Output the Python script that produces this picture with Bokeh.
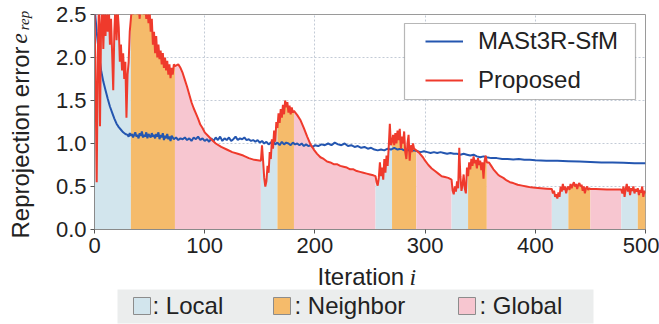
import math
import numpy as np
from bokeh.plotting import figure
from bokeh.layouts import row, column
from bokeh.models import (Range1d, FixedTicker, BoxAnnotation, Legend, LegendItem,
                          PrintfTickFormatter)
from bokeh.core.properties import value
from bokeh.embed import file_html
from bokeh.resources import INLINE

# ---------------- data ----------------
x_ticks = [0, 100, 200, 300, 400, 500]
y_ticks = [0.0, 0.5, 1.0, 1.5, 2.0, 2.5]

phase_starts = [0, 33, 73, 151, 166, 181, 255, 270, 292, 324, 339, 356, 415, 430, 450, 478, 493]
phase_ends = [33, 73, 151, 166, 181, 255, 270, 292, 324, 339, 356, 415, 430, 450, 478, 493, 500]
phase_kinds = ["Local", "Neighbor", "Global", "Local", "Neighbor", "Global", "Local", "Neighbor",
               "Global", "Local", "Neighbor", "Global", "Local", "Neighbor", "Global", "Local", "Neighbor"]
phase_names = ["Local", "Neighbor", "Global"]
phase_colors = {"Local": "#d2e5ed", "Neighbor": "#f5bb6b", "Global": "#f7c6d0"}

# Proposed (red) reprojection error
red_iter = (list(range(0, 74))
            + [76, 78, 80, 82, 84, 86, 88, 90, 92, 94, 96, 98, 100, 103, 106, 110, 115, 120, 125,
               130, 135, 140, 145, 151]
            + list(range(152, 182))
            + [184, 187, 190, 193, 196, 199, 202, 205, 208, 211, 214, 217, 220, 223, 226, 229, 232,
               235, 238, 241, 244, 247, 250, 253, 255]
            + list(range(256, 293))
            + [294, 296, 298, 300, 303, 306, 309, 312, 315, 318, 321, 324]
            + list(range(325, 357))
            + [358, 360, 362, 364, 366, 368, 371, 374, 377, 380, 384, 388, 392, 396, 400, 405, 410, 415]
            + list(range(416, 451))
            + [455, 460, 465, 470, 475, 478]
            + list(range(479, 501)))
red_err = (
    # local 0-33
    [2.6, 1.7, 0.55, 2.0, 2.6, 1.2, 2.4, 2.6, 2.1, 2.55, 2.25, 2.7, 2.3, 2.6, 2.15, 2.45, 2.05,
     1.62, 2.3, 2.6, 2.2, 2.55, 2.35, 1.95, 2.15, 1.85, 2.05, 1.75, 1.95, 1.3, 1.8, 1.95, 2.3, 2.45]
    # neighbor 34-73
    + [2.6, 2.5, 2.65, 2.55, 2.7, 2.5, 2.6, 2.45, 2.65, 2.55, 2.7, 2.5, 2.6, 2.45, 2.6, 2.4, 2.55,
       2.3, 2.45, 2.15, 2.3, 2.05, 2.25, 2.0, 2.15, 1.98, 2.08, 1.92, 2.05, 1.88, 2.0, 1.85, 1.96,
       1.8, 1.92, 1.76, 1.88, 1.8, 1.92, 1.9]
    # global 76-151
    + [1.92, 1.88, 1.82, 1.74, 1.66, 1.57, 1.48, 1.41, 1.35, 1.29, 1.22, 1.18, 1.13, 1.09, 1.05,
       1.0, 0.96, 0.93, 0.9, 0.88, 0.86, 0.83, 0.81, 0.80]
    # local 152-166
    + [0.98, 0.8, 0.6, 0.5, 0.56, 0.74, 0.66, 0.9, 0.82, 1.05, 0.94, 1.15, 1.02, 1.25, 1.18]
    # neighbor 167-181
    + [1.35, 1.24, 1.4, 1.3, 1.45, 1.34, 1.5, 1.42, 1.48, 1.36, 1.44, 1.34, 1.42, 1.36, 1.38]
    # global 184-255
    + [1.33, 1.27, 1.18, 1.08, 0.99, 0.93, 0.88, 0.84, 0.82, 0.79, 0.78, 0.76, 0.76, 0.74, 0.73,
       0.72, 0.7, 0.7, 0.68, 0.67, 0.66, 0.65, 0.64, 0.63, 0.62]
    # local 256-270
    + [0.55, 0.51, 0.6, 0.78, 0.62, 0.72, 0.58, 0.82, 0.66, 0.86, 0.74, 0.96, 1.23, 0.98, 1.02]
    # neighbor 271-292
    + [1.1, 0.98, 1.12, 1.0, 1.15, 1.04, 1.17, 0.94, 1.08, 1.0, 1.14, 0.9, 0.82, 1.0, 1.1, 0.8,
       0.98, 0.9, 1.0, 0.94, 0.93, 0.92]
    # global 294-324
    + [0.9, 0.87, 0.84, 0.8, 0.75, 0.71, 0.68, 0.65, 0.62, 0.61, 0.6, 0.58]
    # local 325-339
    + [0.45, 0.41, 0.5, 0.44, 0.56, 0.48, 0.95, 0.62, 0.45, 0.52, 0.64, 0.48, 0.42, 0.72, 0.62]
    # neighbor 340-356
    + [0.78, 0.7, 0.82, 0.74, 0.85, 0.77, 0.81, 0.71, 0.83, 0.75, 0.8, 0.69, 0.78, 0.59, 0.8,
       0.86, 0.78]
    # global 358-415
    + [0.78, 0.74, 0.7, 0.67, 0.64, 0.62, 0.6, 0.57, 0.55, 0.54, 0.52, 0.51, 0.5, 0.49, 0.485,
       0.48, 0.475, 0.47]
    # local 416-430
    + [0.42, 0.45, 0.38, 0.41, 0.36, 0.43, 0.38, 0.5, 0.44, 0.53, 0.46, 0.5, 0.42, 0.48, 0.5]
    # neighbor 431-450
    + [0.46, 0.53, 0.48, 0.52, 0.55, 0.5, 0.53, 0.47, 0.52, 0.54, 0.5, 0.52, 0.45, 0.5, 0.42,
       0.48, 0.5, 0.46, 0.48, 0.47]
    # global 455-478
    + [0.47, 0.468, 0.466, 0.465, 0.465, 0.465]
    # local 479-493
    + [0.42, 0.5, 0.38, 0.47, 0.53, 0.44, 0.5, 0.4, 0.48, 0.45, 0.5, 0.42, 0.47, 0.44, 0.48]
    # neighbor 494-500
    + [0.4, 0.46, 0.43, 0.5, 0.38, 0.45, 0.42])

# MASt3R-SfM (blue) reprojection error
blue_iter = (list(range(0, 31, 2)) + list(range(31, 71)) + list(range(72, 201, 2))
             + list(range(203, 357, 3)) + list(range(360, 401, 5)) + list(range(410, 501, 10)))
blue_err = (
    [2.6, 2.3, 2.04, 1.85, 1.72, 1.62, 1.52, 1.43, 1.36, 1.29, 1.23, 1.19, 1.16, 1.13, 1.11, 1.1]
    + [1.08, 1.12, 1.09, 1.11, 1.07, 1.1, 1.13, 1.08, 1.1, 1.06, 1.12, 1.09, 1.14, 1.07, 1.1,
       1.08, 1.13, 1.06, 1.11, 1.09, 1.07, 1.12, 1.08, 1.1, 1.06, 1.11, 1.08, 1.13, 1.05, 1.1,
       1.07, 1.12, 1.04, 1.09, 1.06, 1.11, 1.05, 1.08, 1.03, 1.09]
    + [1.05, 1.07, 1.04, 1.06, 1.05, 1.07, 1.04, 1.06, 1.03, 1.07,
       1.05, 1.08, 1.04, 1.06, 1.03, 1.05, 1.02, 1.06, 1.03, 1.07,
       1.04, 1.08, 1.03, 1.06, 1.04, 1.07, 1.03, 1.05, 1.08, 1.04,
       1.06, 1.05, 1.07, 1.04, 1.05, 1.03, 1.04, 1.02, 1.04, 1.01,
       1.03, 1.0, 1.02, 0.99, 1.01, 1.03, 0.99, 1.01, 0.98, 1.02,
       0.99, 1.01, 1.0, 0.98, 1.01, 0.99, 1.0, 0.98, 1.0, 0.97,
       0.99, 0.97, 0.98, 0.96, 0.98]
    + [0.97, 0.99, 0.98, 1.0, 0.98, 1.01, 0.99, 0.98, 1.0, 0.97,
       0.98, 0.96, 0.97, 0.95, 0.96, 0.94, 0.95, 0.93, 0.92, 0.93,
       0.92, 0.94, 0.93, 0.95, 0.93, 0.94, 0.92, 0.93, 0.91, 0.92,
       0.91, 0.9, 0.91, 0.9, 0.89, 0.9, 0.89, 0.9, 0.89, 0.88,
       0.89, 0.88, 0.88, 0.87, 0.88, 0.87, 0.86, 0.87, 0.85, 0.84,
       0.85, 0.84]
    + [0.83, 0.83, 0.82, 0.82, 0.815, 0.82, 0.81, 0.81, 0.805]
    + [0.8, 0.8, 0.795, 0.79, 0.785, 0.78, 0.78, 0.775, 0.77, 0.77])

assert len(red_iter) == len(red_err), (len(red_iter), len(red_err))
assert len(blue_iter) == len(blue_err), (len(blue_iter), len(blue_err))

series_names = ["MASt3R-SfM", "Proposed"]
series_colors = ["#2456b0", "#ef3a2c"]
y_title = "Reprojection error"
x_title = "Iteration"

FONT = "Liberation Sans"
SERIF = "Liberation Serif"
TXT = "#222222"

W, H, H_TOP, H_BOT, W_Y = 659, 324, 262, 62, 40
BORDER_L, BORDER_R = 54, 14


def blank_fig(w, h, xr, yr, bl=0, br=0):
    f = figure(width=w, height=h, output_backend="svg", toolbar_location=None,
               x_range=xr, y_range=yr, x_axis_type=None, y_axis_type=None, min_border=0)
    f.min_border_left = bl
    f.min_border_right = br
    f.min_border_top = 0
    f.min_border_bottom = 0
    f.outline_line_color = None
    f.background_fill_color = "white"
    f.border_fill_color = "white"
    f.grid.visible = False
    return f


# ---------------- main plot ----------------
p = figure(width=W - W_Y, height=H_TOP, output_backend="svg", toolbar_location=None,
           x_range=Range1d(0, 500), y_range=Range1d(0, 2.5),
           min_border_left=BORDER_L, min_border_right=BORDER_R, min_border_top=14,
           min_border_bottom=33)
p.background_fill_color = "white"
p.border_fill_color = "white"
p.outline_line_color = "#9a9a9a"
p.outline_line_width = 1

rx = np.array(red_iter, dtype=float)
ry = np.array(red_err, dtype=float)
for s, e, k in zip(phase_starts, phase_ends, phase_kinds):
    m = (rx >= s) & (rx <= e)
    p.varea(x=rx[m], y1=np.zeros(m.sum()), y2=ry[m], fill_color=phase_colors[k], fill_alpha=1.0)

for g in (p.xgrid, p.ygrid):
    g.grid_line_color = "#c3cbd6"
    g.grid_line_dash = "2 2"
    g.grid_line_width = 1
    g.level = "underlay"

blue_r = p.line(blue_iter, blue_err, line_color=series_colors[0], line_width=2)
red_r = p.line(red_iter, red_err, line_color=series_colors[1], line_width=2)

p.xaxis.ticker = FixedTicker(ticks=x_ticks)
p.yaxis.ticker = FixedTicker(ticks=y_ticks)
p.yaxis.formatter = PrintfTickFormatter(format="%.1f")
for ax in (p.xaxis[0], p.yaxis[0]):
    ax.axis_line_color = "#8a8a8a"
    ax.major_tick_line_color = "#555555"
    ax.major_tick_out = 4
    ax.major_tick_in = 0
    ax.minor_tick_line_color = None
    ax.major_label_text_font = FONT
    ax.major_label_text_font_size = "22px"
    ax.major_label_text_color = TXT
    ax.major_label_standoff = 4
    ax.axis_label = None

# top-right legend (white box with black border)
p.add_layout(BoxAnnotation(left=310, right=541, top=206, bottom=130,
                           left_units="screen", right_units="screen",
                           top_units="screen", bottom_units="screen",
                           fill_color="white", fill_alpha=1.0,
                           line_color="#111111", line_width=1.2, level="annotation"))
legend = Legend(items=[LegendItem(label=series_names[0], renderers=[blue_r]),
                       LegendItem(label=series_names[1], renderers=[red_r])],
                location=(331, 135), padding=0, margin=0, spacing=11,
                glyph_width=38, glyph_height=24, label_height=24, label_standoff=15,
                label_text_font=FONT, label_text_font_size="24px", label_text_color=TXT,
                background_fill_alpha=0.0, border_line_alpha=0.0)
p.add_layout(legend)

# ---------------- y-axis title strip (full height, page y -> H - y) ----------------
yf = blank_fig(W_Y, H, Range1d(0, W_Y), Range1d(0, H))
yf.text(x=[20], y=[H - 142], text=[y_title], angle=math.pi / 2,
        text_font=value(FONT), text_font_size=value("24px"), text_color=TXT,
        text_align="center", text_baseline="middle")
yf.text(x=[19], y=[H - 38], text=["e"], angle=math.pi / 2,
        text_font=value(SERIF), text_font_style="italic", text_font_size=value("24px"),
        text_color=TXT, text_align="center", text_baseline="middle")
yf.text(x=[23], y=[H - 20], text=["rep"], angle=math.pi / 2,
        text_font=value(SERIF), text_font_style="italic", text_font_size=value("15px"),
        text_color=TXT, text_align="center", text_baseline="middle")

# ---------------- bottom strip: x title + phase legend (page coords) ----------------
bf = blank_fig(W - W_Y, H_BOT, Range1d(W_Y + BORDER_L, W - BORDER_R), Range1d(0, H_BOT),
               bl=BORDER_L, br=BORDER_R)
bf.text(x=[317], y=[H - 276], text=[x_title], text_font=value(FONT),
        text_font_size=value("24px"), text_color=TXT, text_align="left",
        text_baseline="middle")
bf.text(x=[409], y=[H - 276], text=["i"], text_font=value(SERIF), text_font_style="italic",
        text_font_size=value("24px"), text_color=TXT, text_align="left",
        text_baseline="middle")
bf.quad(left=[117], right=[593], top=[H - 289], bottom=[H - 323],
        fill_color="#ebeded", line_color=None)
sq_left = [133, 273, 458]
txt_left = [152, 294, 479]
bf.quad(left=sq_left, right=[v + 17 for v in sq_left], top=[H - 297] * 3,
        bottom=[H - 314] * 3, fill_color=[phase_colors[n] for n in phase_names],
        line_color="#8c8c8c", line_width=1)
bf.text(x=txt_left, y=[H - 305] * 3, text=[": " + n for n in phase_names],
        text_font=value(FONT), text_font_size=value("24px"), text_color=TXT,
        text_align="left", text_baseline="middle")

layout = row(yf, column(p, bf, spacing=0), spacing=0)
open("out.html", "w").write(file_html(layout, INLINE))
